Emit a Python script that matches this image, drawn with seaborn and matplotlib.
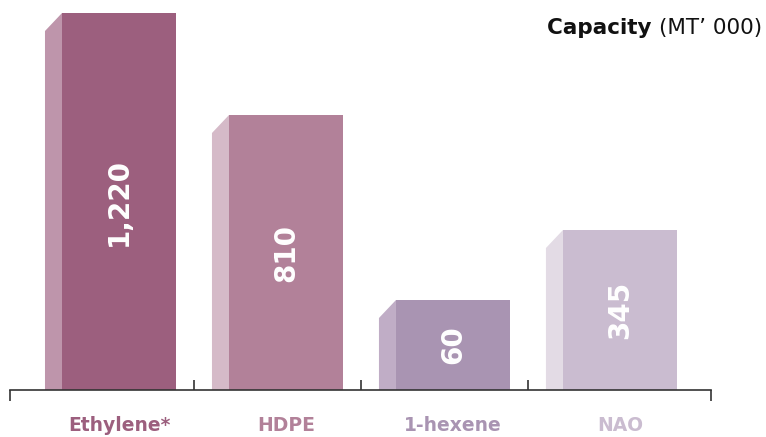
import matplotlib
matplotlib.use("Agg")
import matplotlib.pyplot as plt
import seaborn as sns

# ========== Data (bar heights, labels are the printed values) ==========
categories = ["Ethylene*", "HDPE", "1-hexene", "NAO"]
value_labels = ["1,220", "810", "60", "345"]
bar_heights = [377, 275, 90, 160]

front_colors = ["#9C5F7E", "#B28199", "#A994B2", "#CABCD0"]
side_colors = ["#BE95AB", "#D5BAC8", "#C0ADC6", "#E3DBE5"]

# ========== Figure ==========
sns.set_theme(style="white")
plt.rcParams["font.family"] = ["DejaVu Sans"]

fig = plt.figure(figsize=(7.66, 4.37), dpi=100)
ax = fig.add_axes([10 / 766, 47 / 437, 701 / 766, 377 / 437])

front_w = 0.683
side_w = 0.102
drop = 18

sns.barplot(x=categories, y=bar_heights, hue=categories, palette=front_colors,
            width=front_w, saturation=1, legend=False, linewidth=0, ax=ax)

# 3D side faces
for i, h in enumerate(bar_heights):
    x0 = i - front_w / 2 - side_w
    x1 = i - front_w / 2
    ax.fill([x0, x1, x1, x0], [0, 0, h, h - drop], color=side_colors[i], lw=0)
    ax.text(i, h / 2, value_labels[i], rotation=90, ha="center", va="center",
            color="white", fontsize=20, fontweight="bold")

ax.set_xlim(-0.653, 3.545)
ax.set_ylim(0, 377)

# axis line and dividers
for s in ["top", "right", "left"]:
    ax.spines[s].set_visible(False)
ax.spines["bottom"].set_color("#333333")
ax.spines["bottom"].set_linewidth(1.2)
ax.vlines([0.45, 1.45, 2.45], 0, 10, color="#333333", lw=1.2)
ax.vlines([-0.653, 3.545], -11, 0, color="#333333", lw=1.2, clip_on=False)

ax.set_yticks([])
ax.set_ylabel("")
ax.set_xlabel("")
ax.tick_params(axis="x", length=0, pad=19)
ax.set_xticks(range(len(categories)))
ax.set_xticklabels(categories, fontsize=13.5, fontweight="bold")
for lbl, c in zip(ax.get_xticklabels(), front_colors):
    lbl.set_color(c)

# title: bold + regular
reg = fig.text(762 / 766, 1 - 28 / 437, "(MT\u2019 000)", ha="right", va="center",
               fontsize=15.5, color="#111111")
ax.annotate("Capacity ", xy=(0, 0.5), xycoords=reg, ha="right", va="center",
            fontsize=15.5, fontweight="bold", color="#111111", annotation_clip=False)

plt.savefig("out.png", dpi=100)
plt.close()
